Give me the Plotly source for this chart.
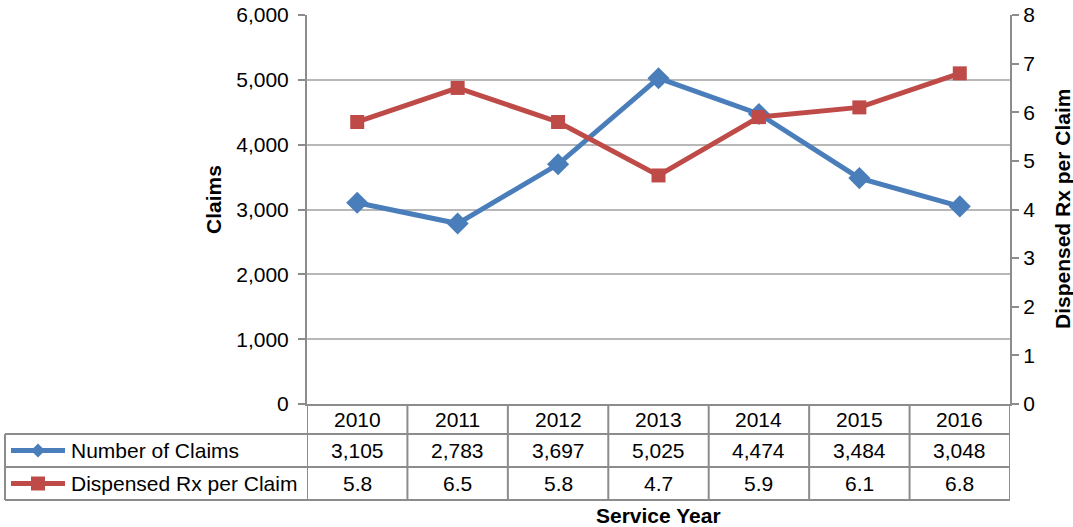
import plotly.graph_objects as go

years = ["2010", "2011", "2012", "2013", "2014", "2015", "2016"]
claims = [3105, 2783, 3697, 5025, 4474, 3484, 3048]
rx_per_claim = [5.8, 6.5, 5.8, 4.7, 5.9, 6.1, 6.8]
claims_ticks = [0, 1000, 2000, 3000, 4000, 5000, 6000]
rx_ticks = [0, 1, 2, 3, 4, 5, 6, 7, 8]

W, H = 1073, 527
L, R, T, B = 307, 1010, 15, 404  # plot area in pixels

BLUE = "#4A7EBB"
RED = "#BE4B48"
GRID = "#B8B8B8"
AXIS = "#8C8C8C"
FONT = "Liberation Sans, Arial, sans-serif"
FS = 21


def px(p):
    return (p - L) / (R - L)


def py(p):
    return (B - p) / (B - T)


fig = go.Figure()
fig.add_trace(go.Scatter(
    x=years, y=claims, name="Number of Claims", mode="lines+markers",
    line=dict(color=BLUE, width=5),
    marker=dict(symbol="diamond", size=17, color=BLUE),
    yaxis="y", cliponaxis=False,
))
fig.add_trace(go.Scatter(
    x=years, y=rx_per_claim, name="Dispensed Rx per Claim", mode="lines+markers",
    line=dict(color=RED, width=5),
    marker=dict(symbol="square", size=14, color=RED),
    yaxis="y2", cliponaxis=False,
))

shapes = []
ann = []
tl = dict(color=AXIS, width=2)
tf = dict(size=FS, color="#000", family=FONT)

# data table horizontal lines
for yy in (434, 467, 500):
    shapes.append(dict(type="line", xref="paper", yref="paper",
                       x0=px(5), x1=1, y0=py(yy), y1=py(yy), line=tl))
# left border of legend column
shapes.append(dict(type="line", xref="paper", yref="paper",
                   x0=px(5), x1=px(5), y0=py(434), y1=py(500), line=tl))
# vertical dividers at category boundaries
for i in range(len(years) + 1):
    shapes.append(dict(type="line", xref="x", yref="paper",
                       x0=i - 0.5, x1=i - 0.5, y0=0, y1=py(500), line=tl))

# table text
for i, yr in enumerate(years):
    ann.append(dict(x=i, y=py(419), xref="x", yref="paper", text=yr,
                    xanchor="center", yanchor="middle", showarrow=False, font=tf))
    ann.append(dict(x=i, y=py(450.5), xref="x", yref="paper", text=f"{claims[i]:,}",
                    xanchor="center", yanchor="middle", showarrow=False, font=tf))
    ann.append(dict(x=i, y=py(483.5), xref="x", yref="paper", text=f"{rx_per_claim[i]:.1f}",
                    xanchor="center", yanchor="middle", showarrow=False, font=tf))

# legend keys
for yy, col, name in ((450.5, BLUE, "Number of Claims"), (483.5, RED, "Dispensed Rx per Claim")):
    shapes.append(dict(type="line", xref="paper", yref="paper",
                       x0=px(11), x1=px(65), y0=py(yy), y1=py(yy),
                       line=dict(color=col, width=5)))
    ann.append(dict(x=px(69), y=py(yy), xref="paper", yref="paper", text=name,
                    xanchor="left", yanchor="middle", showarrow=False, font=tf))
shapes.append(dict(type="path", xref="paper", yref="paper", xsizemode="pixel", ysizemode="pixel",
                   xanchor=px(38), yanchor=py(450.5),
                   path="M -7 0 L 0 7 L 7 0 L 0 -7 Z", fillcolor=BLUE, line=dict(width=0)))
shapes.append(dict(type="rect", xref="paper", yref="paper", xsizemode="pixel", ysizemode="pixel",
                   xanchor=px(38), yanchor=py(483.5),
                   x0=-7, x1=7, y0=-7, y1=7, fillcolor=RED, line=dict(width=0)))

# axis titles
bf = dict(size=21, color="#000", family=FONT)
ann.append(dict(x=px(213), y=py(200), xref="paper", yref="paper", text="<b>Claims</b>",
                xanchor="center", yanchor="middle", textangle=-90, showarrow=False, font=bf))
ann.append(dict(x=px(1062), y=py(209), xref="paper", yref="paper", text="<b>Dispensed Rx per Claim</b>",
                xanchor="center", yanchor="middle", textangle=-90, showarrow=False, font=bf))
ann.append(dict(x=px(658), y=py(515), xref="paper", yref="paper", text="<b>Service Year</b>",
                xanchor="center", yanchor="middle", showarrow=False, font=bf))

fig.update_layout(
    width=W, height=H,
    margin=dict(l=L, r=W - R, t=T, b=H - B, autoexpand=False),
    paper_bgcolor="white", plot_bgcolor="white",
    showlegend=False,
    font=dict(family=FONT, size=FS, color="#000"),
    xaxis=dict(type="category", range=[-0.5, len(years) - 0.5], showticklabels=False,
               showgrid=False, zeroline=False, showline=True, linecolor=AXIS, linewidth=2,
               ticks="", automargin=False),
    yaxis=dict(range=[0, 6000], tickvals=claims_ticks, tickformat=",", showgrid=True,
               gridcolor=GRID, gridwidth=1.5, zeroline=False, showline=True,
               linecolor=AXIS, linewidth=2, ticks="outside", ticklen=7, tickcolor=AXIS,
               tickwidth=1.5, ticklabelstandoff=5, tickfont=dict(size=FS, color="#000"),
               automargin=False),
    yaxis2=dict(range=[0, 8], tickvals=rx_ticks, overlaying="y", side="right",
                showgrid=False, zeroline=False, showline=True, linecolor=AXIS, linewidth=2,
                ticks="outside", ticklen=7, tickcolor=AXIS, tickwidth=1.5,
                tickfont=dict(size=FS, color="#000"), automargin=False),
    shapes=shapes,
    annotations=ann,
)

fig.write_html("out.html")
